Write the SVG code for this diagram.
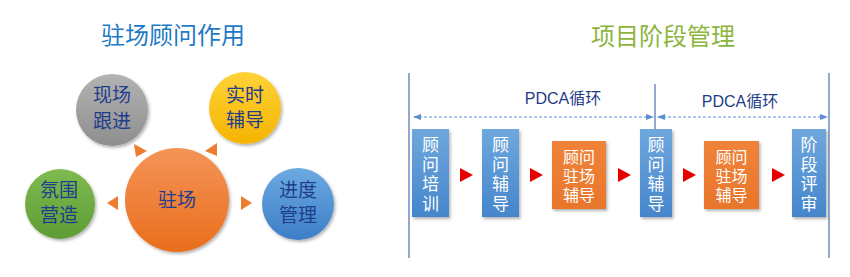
<svg xmlns="http://www.w3.org/2000/svg" width="850" height="277" viewBox="0 0 850 277">
<style>
text{font-family:"Liberation Sans","Noto Sans CJK SC",sans-serif;text-anchor:middle}
.title{font-size:24px}
.ct{font-size:19px;fill:#1f3d8c}
.bt{font-size:17px;fill:#ffffff}
.ot{font-size:16px;fill:#ffffff}
.pd{font-size:16px;fill:#1f3c88}
.vl{stroke:#4a6fb0;stroke-width:1.2}
.dl{stroke:#5b8fd0;stroke-width:1;stroke-dasharray:3 2;fill:none}
.otri{fill:#ed7d31}
.rtri{fill:#e60000}
</style>
<defs>
<filter id="sh" x="-20%" y="-20%" width="150%" height="150%">
<feDropShadow dx="1.5" dy="2" stdDeviation="1.5" flood-color="#000" flood-opacity="0.3"/>
</filter>
<linearGradient id="gGray" x1="0" y1="0" x2="0" y2="1"><stop offset="0" stop-color="#b3b3b3"/><stop offset="1" stop-color="#8e8e8e"/></linearGradient>
<linearGradient id="gYel" x1="0" y1="0" x2="0" y2="1"><stop offset="0" stop-color="#ffd238"/><stop offset="1" stop-color="#f4b400"/></linearGradient>
<linearGradient id="gOra" x1="0" y1="0" x2="0" y2="1"><stop offset="0" stop-color="#f49458"/><stop offset="1" stop-color="#e96e1c"/></linearGradient>
<linearGradient id="gGre" x1="0" y1="0" x2="0" y2="1"><stop offset="0" stop-color="#7fbb50"/><stop offset="1" stop-color="#5e9c36"/></linearGradient>
<linearGradient id="gBlu" x1="0" y1="0" x2="0" y2="1"><stop offset="0" stop-color="#6daae2"/><stop offset="1" stop-color="#3c7ec6"/></linearGradient>
<linearGradient id="gBox" x1="0" y1="0" x2="0" y2="1"><stop offset="0" stop-color="#6fa8de"/><stop offset="1" stop-color="#4585cb"/></linearGradient>
<linearGradient id="gOBox" x1="0" y1="0" x2="0" y2="1"><stop offset="0" stop-color="#f0833a"/><stop offset="1" stop-color="#e8762c"/></linearGradient>
<marker id="ah" viewBox="0 0 8 8" refX="7" refY="4" markerWidth="8" markerHeight="8" markerUnits="userSpaceOnUse" orient="auto-start-reverse">
<path d="M0,1 L8,4 L0,7 Z" fill="#5b8fd0"/>
</marker>
</defs>

<text class="title" x="173" y="44" fill="#1f7ac6">驻场顾问作用</text>
<text class="title" x="663" y="45" fill="#8db53c">项目阶段管理</text>

<g id="connectors">
<path class="otri" d="M134,144 L147,151 L136,157 Z"/>
<path class="otri" d="M205,151 L217,143 L217,156 Z"/>
<path class="otri" d="M107,203 L118,196 L118,210 Z"/>
<path class="otri" d="M252,203 L241,196 L241,210 Z"/>
<line class="vl" x1="409" y1="73" x2="409" y2="258"/>
<line class="vl" x1="829" y1="73" x2="829" y2="258"/>
<line class="vl" x1="655" y1="84" x2="655" y2="130"/>
<line class="dl" x1="414" y1="117" x2="653" y2="117" marker-start="url(#ah)" marker-end="url(#ah)"/>
<line class="dl" x1="658" y1="117" x2="827" y2="117" marker-start="url(#ah)" marker-end="url(#ah)"/>
<path class="rtri" d="M460,168 L473,175 L460,182 Z"/>
<path class="rtri" d="M530,168 L543,175 L530,182 Z"/>
<path class="rtri" d="M618,168 L631,175 L618,182 Z"/>
<path class="rtri" d="M683,168 L696,175 L683,182 Z"/>
<path class="rtri" d="M772,168 L785,175 L772,182 Z"/>
<text class="pd" x="563" y="104">PDCA循环</text>
<text class="pd" x="740" y="107">PDCA循环</text>
</g>

<g id="n-xianchang">
<circle cx="112" cy="110" r="36" fill="url(#gGray)" filter="url(#sh)"/>
<text class="ct" x="112" y="102">现场</text>
<text class="ct" x="112" y="128">跟进</text>
</g>
<g id="n-shishi">
<circle cx="245" cy="108" r="36" fill="url(#gYel)" filter="url(#sh)"/>
<text class="ct" x="245" y="102">实时</text>
<text class="ct" x="245" y="127">辅导</text>
</g>
<g id="n-zhuchang">
<circle cx="177" cy="200" r="52" fill="url(#gOra)" filter="url(#sh)"/>
<text class="ct" x="177" y="207">驻场</text>
</g>
<g id="n-fenwei">
<circle cx="60" cy="204" r="35" fill="url(#gGre)" filter="url(#sh)"/>
<text class="ct" x="59" y="197">氛围</text>
<text class="ct" x="59" y="222">营造</text>
</g>
<g id="n-jindu">
<circle cx="298" cy="204" r="36" fill="url(#gBlu)" filter="url(#sh)"/>
<text class="ct" x="298" y="197">进度</text>
<text class="ct" x="298" y="222">管理</text>
</g>

<g id="b1">
<rect x="412" y="129" width="37" height="88" fill="url(#gBox)" filter="url(#sh)"/>
<text class="bt" x="430.5" y="151">顾</text><text class="bt" x="430.5" y="170.5">问</text><text class="bt" x="430.5" y="190">培</text><text class="bt" x="430.5" y="209.5">训</text>
</g>
<g id="b2">
<rect x="482" y="129" width="37" height="88" fill="url(#gBox)" filter="url(#sh)"/>
<text class="bt" x="500.5" y="151">顾</text><text class="bt" x="500.5" y="170.5">问</text><text class="bt" x="500.5" y="190">辅</text><text class="bt" x="500.5" y="209.5">导</text>
</g>
<g id="b3">
<rect x="552" y="141" width="54" height="68" fill="url(#gOBox)" filter="url(#sh)"/>
<text class="ot" x="579" y="163">顾问</text><text class="ot" x="579" y="182">驻场</text><text class="ot" x="579" y="201">辅导</text>
</g>
<g id="b4">
<rect x="640" y="129" width="32" height="88" fill="url(#gBox)" filter="url(#sh)"/>
<text class="bt" x="656" y="151">顾</text><text class="bt" x="656" y="170.5">问</text><text class="bt" x="656" y="190">辅</text><text class="bt" x="656" y="209.5">导</text>
</g>
<g id="b5">
<rect x="704" y="141" width="55" height="68" fill="url(#gOBox)" filter="url(#sh)"/>
<text class="ot" x="731.5" y="163">顾问</text><text class="ot" x="731.5" y="182">驻场</text><text class="ot" x="731.5" y="201">辅导</text>
</g>
<g id="b6">
<rect x="792" y="129" width="34" height="88" fill="url(#gBox)" filter="url(#sh)"/>
<text class="bt" x="809" y="151">阶</text><text class="bt" x="809" y="170.5">段</text><text class="bt" x="809" y="190">评</text><text class="bt" x="809" y="209.5">审</text>
</g>
</svg>
